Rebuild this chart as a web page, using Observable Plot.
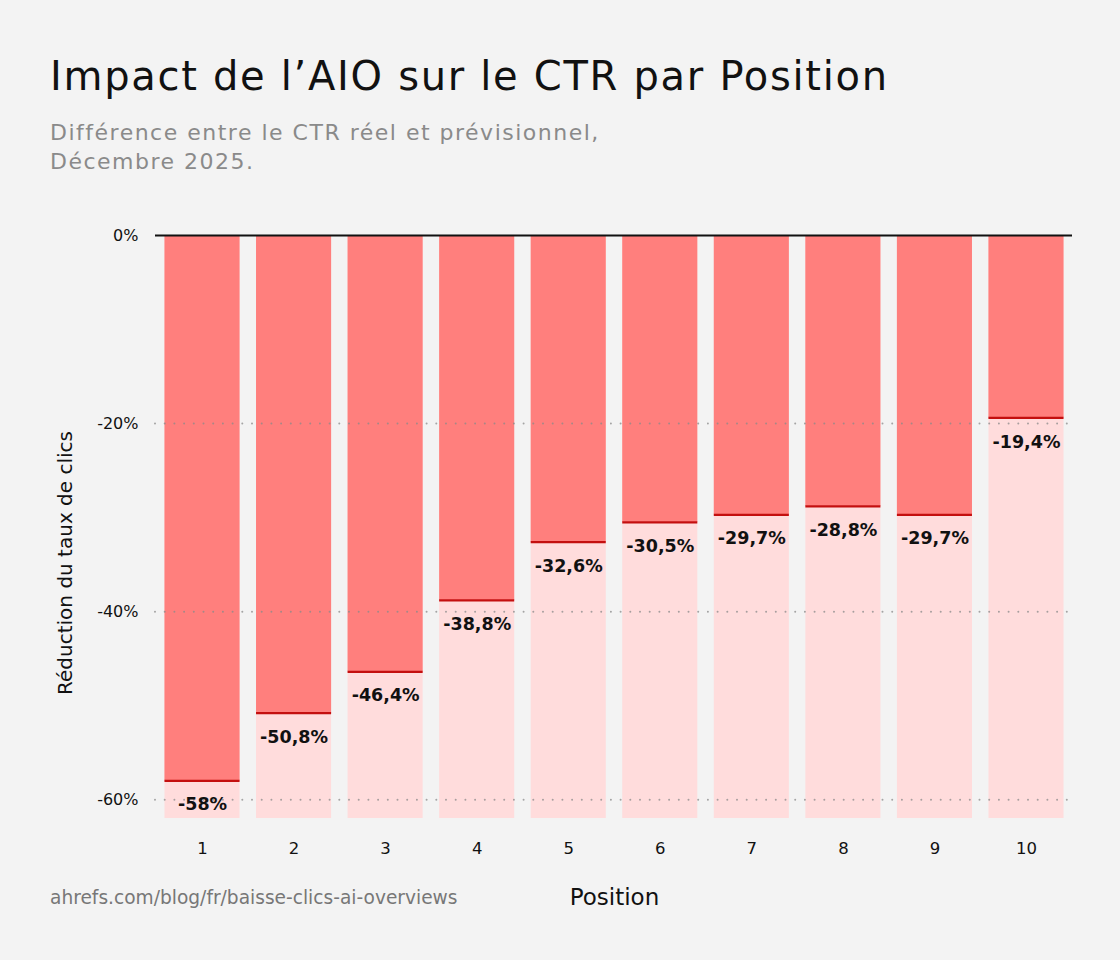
<!DOCTYPE html>
<html>
<head>
<meta charset="utf-8">
<script src="https://cdn.jsdelivr.net/npm/d3@7"></script>
<script src="https://cdn.jsdelivr.net/npm/@observablehq/plot@0.6"></script>
<style>
  html, body { margin: 0; padding: 0; background: #f3f3f3; }
  #page { position: relative; width: 1120px; height: 960px; background: #f3f3f3; font-family: "DejaVu Sans", sans-serif; overflow: hidden; }
  #title { position: absolute; left: 50px; top: 53px; font-size: 40px; letter-spacing: 1.7px; color: #111; font-weight: 400; white-space: nowrap; }
  #subtitle { position: absolute; left: 50px; top: 118px; font-size: 22px; letter-spacing: 1.5px; line-height: 29px; color: #8a8a8a; white-space: nowrap; }
  #chart { position: absolute; left: 0; top: 200px; }
  #ylabel { position: absolute; left: 65px; top: 563px; transform: translate(-50%, -50%) rotate(-90deg); font-size: 20px; color: #111; white-space: nowrap; }
  #source { position: absolute; left: 50px; top: 887px; font-size: 18.6px; color: #777; white-space: nowrap; }
</style>
</head>
<body>
<div id="page">
  <div id="title">Impact de l’AIO sur le CTR par Position</div>
  <div id="subtitle">Différence entre le CTR réel et prévisionnel,<br>Décembre 2025.</div>
  <div id="chart"></div>
  <div id="ylabel">Réduction du taux de clics</div>
  <div id="source">ahrefs.com/blog/fr/baisse-clics-ai-overviews</div>
</div>
<script>
const positions = ["1", "2", "3", "4", "5", "6", "7", "8", "9", "10"];
const reductions = [-58, -50.8, -46.4, -38.8, -32.6, -30.5, -29.7, -28.8, -29.7, -19.4];
const valueLabels = ["-58%", "-50,8%", "-46,4%", "-38,8%", "-32,6%", "-30,5%", "-29,7%", "-28,8%", "-29,7%", "-19,4%"];
const yTicks = [0, -20, -40, -60];
const yFloor = -62;

const data = positions.map((p, i) => ({position: p, value: reductions[i], label: valueLabels[i]}));

const chart = Plot.plot({
  width: 1120,
  height: 718,
  marginTop: 35,
  marginBottom: 100,
  marginLeft: 148,
  marginRight: 40,
  style: {background: "transparent", fontFamily: "'DejaVu Sans', sans-serif"},
  x: {domain: positions, padding: 0.18, round: false, label: "Position", labelAnchor: "center", labelOffset: 86, tickSize: 0, tickPadding: 24},
  y: {domain: [yFloor, 0], ticks: yTicks, tickFormat: d => d + "%", label: null, tickSize: 0, tickPadding: 10},
  marks: [
    Plot.barY(data, {x: "position", y1: 0, y2: yFloor, fill: "#ffdcdc"}),
    Plot.barY(data, {x: "position", y1: 0, y2: "value", fill: "#ff7f7d"}),
    Plot.tickY(data, {x: "position", y: "value", stroke: "#c40f0f", strokeWidth: 2.2}),
    Plot.ruleY(yTicks.filter(d => d !== 0), {stroke: "#8a8a8a", strokeOpacity: 0.75, strokeWidth: 2, strokeDasharray: "0,9.7", strokeLinecap: "round", insetLeft: 7, insetRight: 8}),
    Plot.text(data, {x: "position", y: "value", text: "label", dy: 24, fontSize: 17.5, fontWeight: "bold", fill: "#111"}),
    Plot.ruleY([0], {stroke: "#111", strokeWidth: 2, insetLeft: 7, insetRight: 8})
  ]
});

chart.querySelectorAll("[aria-label='y-axis tick label'] text").forEach(t => { t.setAttribute("font-size", "16"); t.setAttribute("fill", "#111"); });
chart.querySelectorAll("[aria-label='x-axis tick label'] text").forEach(t => { t.setAttribute("font-size", "16.5"); t.setAttribute("fill", "#111"); });
chart.querySelectorAll("[aria-label='x-axis label'] text").forEach(t => { t.setAttribute("font-size", "23"); t.setAttribute("fill", "#111"); });
document.getElementById("chart").appendChild(chart);
</script>
</body>
</html>
